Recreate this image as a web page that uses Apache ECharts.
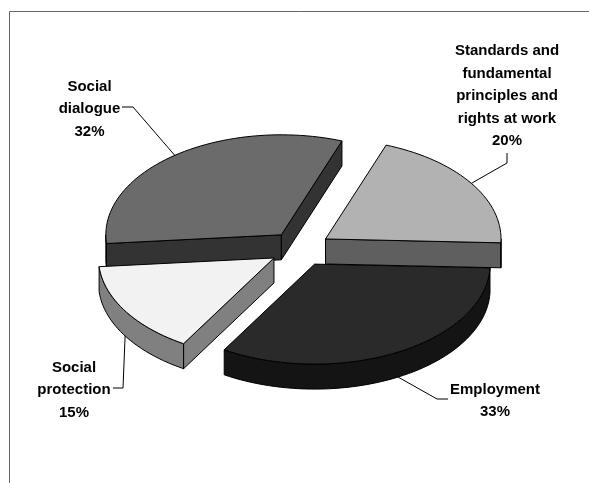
<!DOCTYPE html>
<html>
<head>
<meta charset="utf-8">
<style>html,body{margin:0;padding:0;background:#fff}#c{width:589px;height:483px}</style>
<script src="https://cdn.jsdelivr.net/npm/echarts@6/dist/echarts.min.js"></script>
</head>
<body>
<div id="c"></div>
<script>
// Data, clockwise from the first slice
const categories = ['Standards and\nfundamental\nprinciples and\nrights at work', 'Employment', 'Social\nprotection', 'Social\ndialogue'];
const shares = [20, 33, 15, 32];

// Styles and layout
const topColors = ['#b2b2b2', '#2a2a2a', '#f2f2f2', '#6b6b6b'];
const wallColors = ['#5f5f5f', '#141414', '#808080', '#333333'];
const paintOrder = [2, 1, 3, 0];
const startAngle = 20.2, cx = 300, cy = 248.7, rx = 175.5, ry = 100, depth = 25, explode = 0.175;
const labelCenters = [[507, 96], [495, 401], [74, 390], [89.5, 109]];
const leaderElbows = [
  [[507, 163], [507, 153]],
  [[437, 399], [448, 399]],
  [[123, 388], [113, 388]],
  [[133, 107], [122, 107]]
];

const total = shares.reduce((a, b) => a + b, 0);
const rad = d => d * Math.PI / 180;
const dir = a => [Math.sin(rad(a)) * rx, -Math.cos(rad(a)) * ry];

function renderSlice(params, api) {
  const i = params.dataIndex;
  const value = api.value(0);
  const before = shares.slice(0, i).reduce((a, b) => a + b, 0);
  const a0 = startAngle + before / total * 360;
  const a1 = a0 + value / total * 360;
  const mid = (a0 + a1) / 2;
  const off = dir(mid);
  const ax = cx + off[0] * explode, ay = cy + off[1] * explode;
  const pt = (a, d) => { const v = dir(a); return [ax + v[0], ay + v[1] + (d || 0)]; };
  const arc = (s, e, d) => {
    const n = Math.max(2, Math.ceil((e - s) / 2)), out = [];
    for (let k = 0; k <= n; k++) out.push(pt(s + (e - s) * k / n, d));
    return out;
  };
  const z = paintOrder[i] * 10;
  const stroke = { stroke: '#000', lineWidth: 1, lineJoin: 'round' };
  const kids = [];
  const poly = (points, fill, z2) => kids.push({
    type: 'polygon', z2, shape: { points }, style: Object.assign({ fill }, stroke)
  });
  const radial = a => {
    const p = pt(a);
    poly([[ax, ay], p, [p[0], p[1] + depth], [ax, ay + depth]], wallColors[i], z + 1);
  };
  if (Math.sin(rad(a0)) < 0) radial(a0);
  if (Math.sin(rad(a1)) > 0) radial(a1);
  const fs = Math.max(a0, 90), fe = Math.min(a1, 270);
  if (fe > fs) poly(arc(fs, fe, 0).concat(arc(fs, fe, depth).reverse()), wallColors[i], z + 2);
  poly([[ax, ay]].concat(arc(a0, a1, 0)), topColors[i], z + 3);

  // leader line and label
  const inFront = mid > 90 && mid < 270;
  const anchor = pt(mid, inFront ? depth : 0);
  kids.push({
    type: 'polyline', z2: 100,
    shape: { points: [anchor].concat(leaderElbows[i]) },
    style: { fill: 'none', stroke: '#000', lineWidth: 1 }
  });
  kids.push({
    type: 'text', z2: 101,
    style: {
      text: categories[i] + '\n' + value + '%',
      x: labelCenters[i][0], y: labelCenters[i][1],
      align: 'center', verticalAlign: 'middle',
      font: 'bold 15px "Liberation Sans", Arial, sans-serif',
      lineHeight: 22.5, fill: '#000'
    }
  });
  return { type: 'group', children: kids };
}

const chart = echarts.init(document.getElementById('c'), null, { renderer: 'canvas' });
chart.setOption({
  animation: false,
  backgroundColor: '#fff',
  graphic: [{
    type: 'polyline', silent: true,
    shape: { points: [[9.5, 483], [9.5, 11.5], [589, 11.5]] },
    style: { fill: 'none', stroke: '#666', lineWidth: 1 }
  }],
  series: [{
    type: 'custom',
    coordinateSystem: 'none',
    silent: true,
    clip: false,
    data: shares.map(v => [v]),
    renderItem: renderSlice
  }]
});
</script>
</body>
</html>
